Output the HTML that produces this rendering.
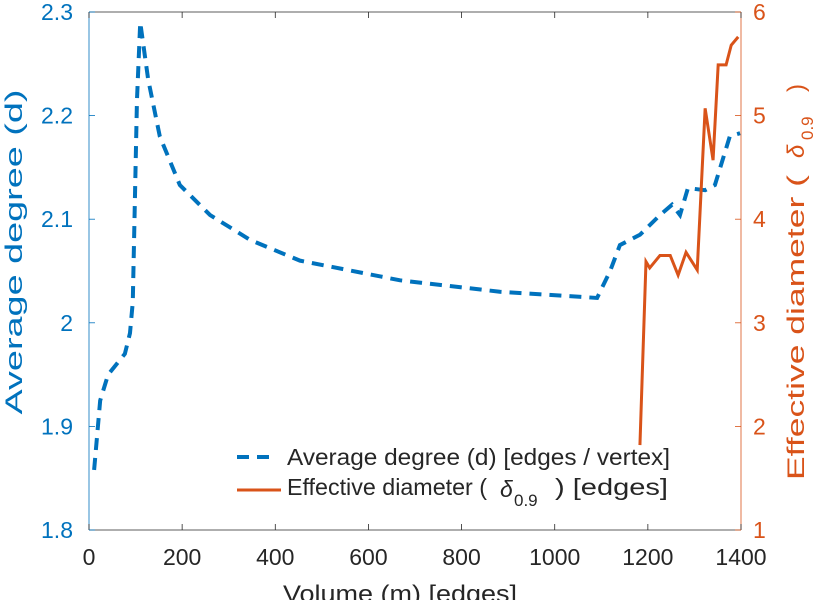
<!DOCTYPE html>
<html><head><meta charset="utf-8"><style>
body{margin:0;background:#fff;}
svg text{font-family:"Liberation Sans",sans-serif;}
</style></head><body>
<svg id="c" width="821" height="600" xmlns="http://www.w3.org/2000/svg"></svg>
<script>
const xTicks=[0,200,400,600,800,1000,1200,1400];
const yLTicks=[1.8,1.9,2,2.1,2.2,2.3];
const yLLabels=["1.8","1.9","2","2.1","2.2","2.3"];
const yRTicks=[1,2,3,4,5,6];
const degX=[11,24,41,77,88,94,103,110,127,152,195,260,346,453,668,882,1091,1119,1140,1183,1226,1252,1269,1286,1323,1344,1376,1398];
const degY=[1.858,1.925,1.95,1.97,1.99,2.02,2.215,2.29,2.235,2.18,2.133,2.104,2.08,2.06,2.041,2.03,2.024,2.05,2.075,2.085,2.104,2.114,2.104,2.13,2.128,2.133,2.18,2.183];
const diaX=[1183,1196,1204,1226,1248,1265,1282,1306,1323,1340,1351,1368,1379,1394];
const diaY=[1.82,3.59,3.53,3.65,3.65,3.46,3.68,3.51,5.07,4.57,5.49,5.49,5.68,5.76];
const L=89,R=741,T=12,B=530;
const sx=v=>L+(v-0)/1400*(R-L);
const syL=v=>B-(v-1.8)/0.5*(B-T);
const syR=v=>B-(v-1)/5*(B-T);
const svg=document.getElementById('c');
const NS='http://www.w3.org/2000/svg';
function mk(t,a,txt){const e=document.createElementNS(NS,t);for(const k in a)e.setAttribute(k,a[k]);if(txt!==undefined)e.textContent=txt;svg.appendChild(e);return e;}
const BLUE='#0072BD',OR='#D95319',FS=23;
let e;
e=mk('line',{x1:L,y1:T,x2:R,y2:T,stroke:'#262626','stroke-width':0.8});

e=mk('line',{x1:L,y1:B,x2:R,y2:B,stroke:'#262626','stroke-width':0.8});

e=mk('line',{x1:L,y1:T,x2:L,y2:B,stroke:BLUE,'stroke-width':0.8});

e=mk('line',{x1:R,y1:T,x2:R,y2:B,stroke:OR,'stroke-width':0.8});

xTicks.forEach(v=>{const x=sx(v);
mk('line',{x1:x,y1:B,x2:x,y2:B-6,stroke:'#262626','stroke-width':0.8});
mk('line',{x1:x,y1:T,x2:x,y2:T+6,stroke:'#262626','stroke-width':0.8});
e=mk('text',{x:x,y:B+35,'text-anchor':'middle','font-size':FS,fill:'#262626'},String(v));
});
yLTicks.forEach((v,i)=>{const y=syL(v);
mk('line',{x1:L,y1:y,x2:L+6,y2:y,stroke:BLUE,'stroke-width':0.8});
e=mk('text',{x:L-16,y:y+8,'text-anchor':'end','font-size':FS,fill:BLUE},yLLabels[i]);
});
yRTicks.forEach(v=>{const y=syR(v);
mk('line',{x1:R,y1:y,x2:R-6,y2:y,stroke:OR,'stroke-width':0.8});
e=mk('text',{x:R+12,y:y+8,'text-anchor':'start','font-size':FS,fill:OR},String(v));
});
e=mk('path',{d:degX.map((v,i)=>(i?'L':'M')+sx(v)+','+syL(degY[i])).join(''),fill:'none',stroke:BLUE,'stroke-width':4,'stroke-dasharray':'12,8'});

e=mk('path',{d:diaX.map((v,i)=>(i?'L':'M')+sx(v)+','+syR(diaY[i])).join(''),fill:'none',stroke:OR,'stroke-width':3});

e=mk('line',{x1:237,y1:457,x2:277,y2:457,stroke:BLUE,'stroke-width':4,'stroke-dasharray':'12,8'});

e=mk('text',{x:287,y:465,'font-size':FS,fill:'#262626',textLength:383,lengthAdjust:'spacingAndGlyphs'},'Average degree (d) [edges / vertex]');

e=mk('line',{x1:237,y1:490,x2:281,y2:490,stroke:OR,'stroke-width':3});

e=mk('text',{x:287,y:495,'font-size':FS,fill:'#262626',textLength:200,lengthAdjust:'spacingAndGlyphs'},'Effective diameter (');

mk('text',{x:500,y:497,'font-size':FS,fill:'#262626','font-style':'italic'},'δ');
mk('text',{x:514,y:506,'font-size':17,fill:'#262626'},'0.9');
mk('text',{x:555,y:495,'font-size':FS,fill:'#262626',textLength:113,lengthAdjust:'spacingAndGlyphs'},') [edges]');
e=mk('text',{x:400,y:602,'text-anchor':'middle','font-size':24,fill:'#262626',textLength:234,lengthAdjust:'spacingAndGlyphs'},'Volume (m) [edges]');

e=mk('text',{x:0,y:0,'text-anchor':'middle','font-size':24,fill:BLUE,transform:'translate(22,252) rotate(-90)',textLength:325,lengthAdjust:'spacingAndGlyphs'},'Average degree (d)');

e=mk('text',{x:0,y:0,'text-anchor':'start','font-size':24,fill:OR,transform:'translate(804,480) rotate(-90)',textLength:305,lengthAdjust:'spacingAndGlyphs'},'Effective diameter (');

mk('text',{x:0,y:0,'font-size':24,fill:OR,'font-style':'italic',transform:'translate(804,158) rotate(-90)'},'δ');
mk('text',{x:0,y:0,'font-size':17,fill:OR,transform:'translate(813,140) rotate(-90)'},'0.9');
mk('text',{x:0,y:0,'font-size':24,fill:OR,transform:'translate(804,92) rotate(-90)'},')');
</script>
</body></html>
